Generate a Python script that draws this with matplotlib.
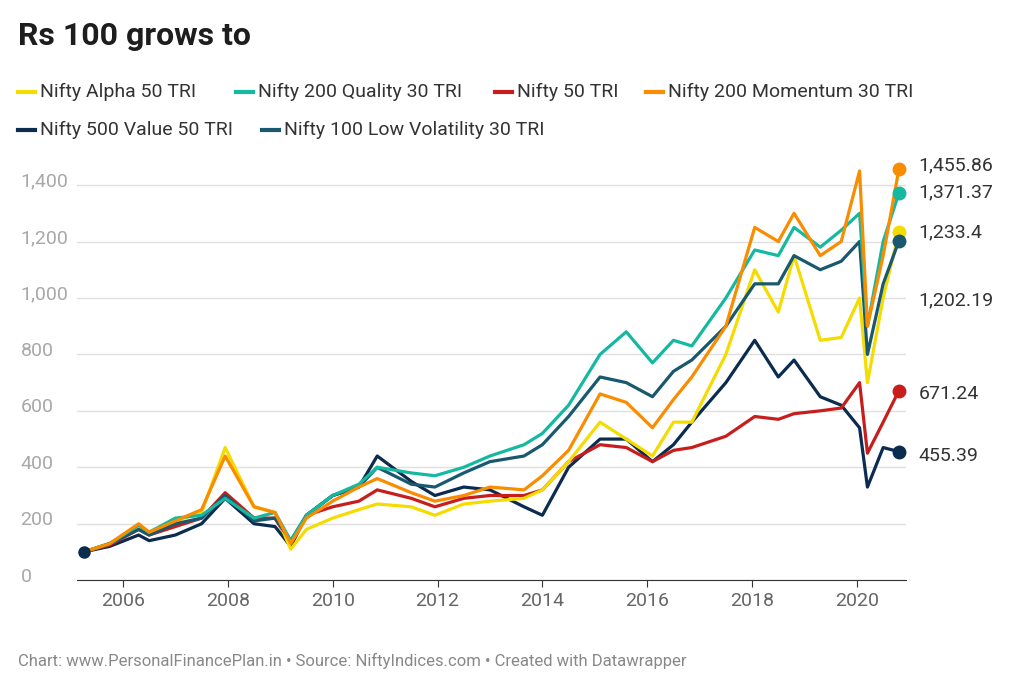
import matplotlib.pyplot as plt
from matplotlib.lines import Line2D
import matplotlib.transforms as mtransforms

plt.rcParams['font.family'] = ['Roboto', 'DejaVu Sans']

years = [2005.25, 2005.75, 2006.3, 2006.5, 2007.0, 2007.5, 2007.95, 2008.5, 2008.9, 2009.2,
         2009.5, 2010.0, 2010.5, 2010.85, 2011.5, 2011.95, 2012.5, 2013.0, 2013.65, 2014.0,
         2014.5, 2015.1, 2015.6, 2016.1, 2016.5, 2016.85, 2017.5, 2018.05, 2018.5, 2018.8,
         2019.3, 2019.7, 2020.05, 2020.2, 2020.5, 2020.8]

alpha50 = [100, 130, 190, 170, 210, 240, 470, 260, 240, 110, 180, 220, 250, 270, 260, 230, 270, 280,
           290, 320, 420, 560, 500, 440, 560, 560, 800, 1100, 950, 1150, 850, 860, 1000, 700, 1000, 1233.4]
quality30 = [100, 130, 195, 170, 220, 230, 290, 220, 240, 140, 230, 300, 340, 400, 380, 370, 400, 440,
             480, 520, 620, 800, 880, 770, 850, 830, 1000, 1170, 1150, 1250, 1180, 1240, 1300, 900, 1200, 1371.37]
nifty50 = [100, 125, 180, 160, 190, 220, 310, 220, 220, 130, 230, 260, 280, 320, 290, 260, 290, 300,
           300, 320, 420, 480, 470, 420, 460, 470, 510, 580, 570, 590, 600, 610, 700, 450, 560, 671.24]
momentum30 = [100, 130, 200, 170, 210, 250, 440, 260, 240, 130, 220, 280, 330, 360, 310, 280, 300, 330,
              320, 370, 460, 660, 630, 540, 640, 720, 900, 1250, 1200, 1300, 1150, 1200, 1450, 900, 1150, 1455.86]
value50 = [100, 120, 160, 140, 160, 200, 290, 200, 190, 120, 230, 300, 330, 440, 350, 300, 330, 320,
           260, 230, 400, 500, 500, 420, 480, 560, 700, 850, 720, 780, 650, 620, 540, 330, 470, 455.39]
lowvol30 = [100, 130, 180, 160, 200, 220, 300, 210, 220, 140, 230, 300, 330, 400, 340, 330, 380, 420,
            440, 480, 580, 720, 700, 650, 740, 780, 900, 1050, 1050, 1150, 1100, 1130, 1200, 800, 1050, 1202.19]

names = ["Nifty Alpha 50 TRI", "Nifty 200 Quality 30 TRI", "Nifty 50 TRI", "Nifty 200 Momentum 30 TRI",
         "Nifty 500 Value 50 TRI", "Nifty 100 Low Volatility 30 TRI"]
series = [alpha50, quality30, nifty50, momentum30, value50, lowvol30]
colors = ["#f5dc00", "#15b8a0", "#c71e1d", "#fa8c00", "#0b2b4f", "#18596f"]
end_labels = ["1,233.4", "1,371.37", "671.24", "1,455.86", "455.39", "1,202.19"]
label_y = [1233, 1375, 660, 1470, 440, 990]

fig = plt.figure(figsize=(10.24, 6.94), dpi=100)
ax = fig.add_axes([0.075, 0.164, 0.81, 0.61])

order = [4, 2, 0, 5, 1, 3]
for i in order:
    ax.plot(years, series[i], color=colors[i], lw=2.3, zorder=3)
    ax.plot(years[-1], series[i][-1], 'o', color=colors[i], ms=9, zorder=4)
trans_r = mtransforms.blended_transform_factory(ax.transAxes, ax.transData)
for i in range(6):
    ax.text(1.015, label_y[i], end_labels[i], transform=trans_r, fontsize=14, color='#333333', va='center')
ax.plot(years[0], 100, 'o', color=colors[4], ms=8, zorder=4)

ax.set_xlim(2005.12, 2020.94)
ax.set_ylim(0, 1500)
ax.set_yticks([0, 200, 400, 600, 800, 1000, 1200, 1400])
ax.set_yticklabels([])
trans = mtransforms.blended_transform_factory(fig.transFigure, ax.transData)
for v in [0, 200, 400, 600, 800, 1000, 1200, 1400]:
    ax.text(0.02, v + 12, f"{v:,}", transform=trans, fontsize=14, color='#a8a8a8', va='center')
ax.grid(axis='y', color='#e0e0e0', lw=1)
ax.set_xticks([2006, 2008, 2010, 2012, 2014, 2016, 2018, 2020])
ax.tick_params(axis='x', labelsize=14, labelcolor='#666666', color='#333333', length=5)
ax.tick_params(axis='y', length=0)
for s in ['top', 'right', 'left']:
    ax.spines[s].set_visible(False)
ax.spines['bottom'].set_color('#333333')

fig.text(0.018, 0.935, "Rs 100 grows to", fontsize=23, fontweight='bold', color='#1d1d1d')

leg_pos = [(18, 92), (236, 92), (495, 92), (646, 92), (18, 130), (262, 130)]
for i, (px, py) in enumerate(leg_pos):
    x0 = px / 1024
    y0 = 1 - py / 694
    fig.add_artist(Line2D([x0, x0 + 17 / 1024], [y0, y0], color=colors[i], lw=3, transform=fig.transFigure))
    fig.text(x0 + 22 / 1024, y0, names[i], fontsize=14, color='#333333', va='center')

fig.text(0.018, 0.04, "Chart: www.PersonalFinancePlan.in • Source: NiftyIndices.com • Created with Datawrapper",
         fontsize=12, color='#888888')

fig.savefig("out.png", dpi=100)
